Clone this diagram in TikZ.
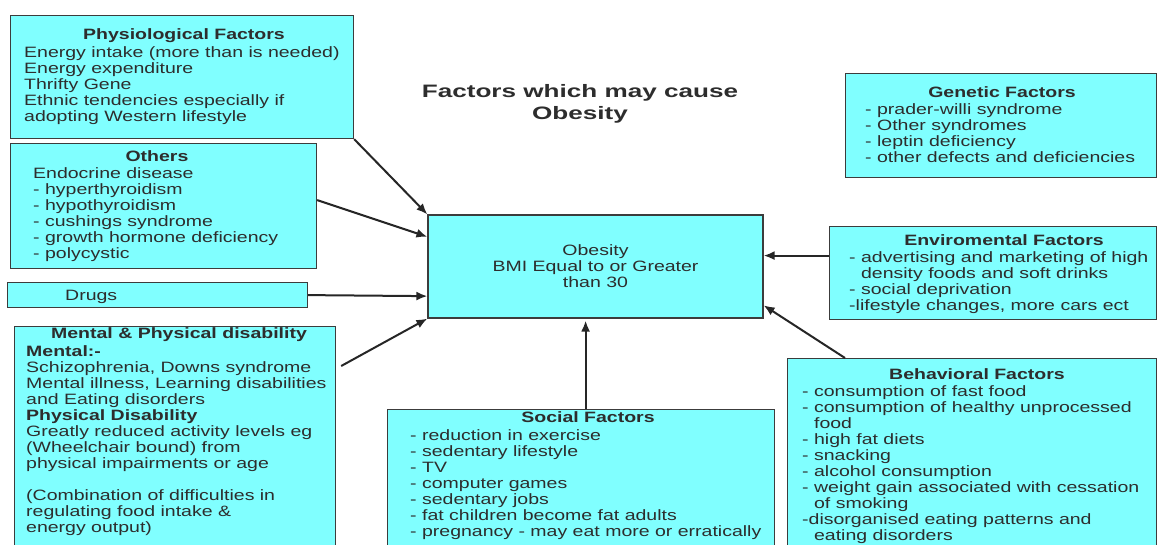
\documentclass[tikz,border=0pt]{standalone}
\usepackage{fontspec}
\setmainfont[FakeStretch=1.3]{Liberation Sans}
\newfontfamily\headfont[FakeStretch=1.45]{Liberation Sans}
\usetikzlibrary{arrows.meta,calc}

\definecolor{boxcyan}{RGB}{128,255,255}
\definecolor{inkgray}{RGB}{45,45,45}
\definecolor{edgegray}{RGB}{60,60,60}

\newcommand{\bodysize}{\fontsize{15}{16}\selectfont}

\tikzset{
    factorbox/.style={rectangle, draw=edgegray, line width=1.2pt, fill=boxcyan, anchor=north west, inner sep=0pt},
    boxtitle/.style={font=\bodysize\bfseries, text=inkgray, inner sep=0pt},
    boxtext/.style={font=\bodysize, text=inkgray, align=left, anchor=north west, inner sep=0pt},
    headtext/.style={font=\headfont\fontsize{18}{22}\selectfont\bfseries, text=inkgray, align=center, inner sep=0pt},
    cause/.style={-{Latex[length=11pt,width=9pt]}, line width=2pt, draw=black!85},
}

\begin{document}
\begin{tikzpicture}[x=1pt,y=-1pt]
    \useasboundingbox (0,0) rectangle (1157,545);
    \clip (0,0) rectangle (1157,545);

    % Titolo
    \node[headtext] (title) at (580,104) {Factors which may cause\\Obesity};

    % Box centrale
    \node[factorbox, anchor=center, minimum width=335pt, minimum height=103pt,
          font=\bodysize, text=inkgray, align=center] (obesity) at (595.5,266.5)
          {Obesity\\BMI Equal to or Greater\\than 30};

    % Physiological
    \node[factorbox, minimum width=343pt, minimum height=123pt] (phys) at (10,15) {};
    \node[boxtitle] (phys-title) at (184,36) {Physiological Factors};
    \node[boxtext] (phys-text) at (24,46.5) {Energy intake (more than is needed)\\
        Energy expenditure\\Thrifty Gene\\Ethnic tendencies especially if\\
        adopting Western lifestyle};

    % Others
    \node[factorbox, minimum width=306pt, minimum height=125pt] (others) at (10,143) {};
    \node[boxtitle] (others-title) at (157,156) {Others};
    \node[boxtext] (others-text) at (33,167.5) {Endocrine disease\\- hyperthyroidism\\
        - hypothyroidism\\- cushings syndrome\\- growth hormone deficiency\\- polycystic};

    % Drugs
    \node[factorbox, minimum width=300pt, minimum height=25pt] (drugs) at (7,282) {};
    \node[boxtext, anchor=west] (drugs-text) at (65,297) {Drugs};

    % Mental & Physical
    \node[factorbox, minimum width=321pt, minimum height=240pt] (mental) at (14,326) {};
    \node[boxtitle] (mental-title) at (179,335) {Mental \& Physical disability};
    \node[boxtext] (mental-text) at (26,345.5) {\textbf{Mental:-}\\
        Schizophrenia, Downs syndrome\\Mental illness, Learning disabilities\\
        and Eating disorders\\\textbf{Physical Disability}\\
        Greatly reduced activity levels eg\\(Wheelchair bound) from\\
        physical impairments or age\\[16pt]
        (Combination of difficulties in\\regulating food intake \&\\energy output)};

    % Social
    \node[factorbox, minimum width=387pt, minimum height=150pt] (social) at (387,409) {};
    \node[boxtitle] (social-title) at (588,417) {Social Factors};
    \node[boxtext] (social-text) at (410,429.5) {- reduction in exercise\\
        - sedentary lifestyle\\- TV\\- computer games\\- sedentary jobs\\
        - fat children become fat adults\\- pregnancy - may eat more or erratically};

    % Genetic
    \node[factorbox, minimum width=311pt, minimum height=104pt] (genetic) at (845,73) {};
    \node[boxtitle] (genetic-title) at (1002,92) {Genetic Factors};
    \node[boxtext] (genetic-text) at (865,103.5) {- prader-willi syndrome\\
        - Other syndromes\\- leptin deficiency\\- other defects and deficiencies};

    % Enviromental
    \node[factorbox, minimum width=327pt, minimum height=93pt] (envir) at (829,226) {};
    \node[boxtitle] (envir-title) at (1004,240) {Enviromental Factors};
    \node[boxtext] (envir-text) at (849,251.5) {- advertising and marketing of high\\
        \hphantom{- }density foods and soft drinks\\- social deprivation\\
        -lifestyle changes, more cars ect};

    % Behavioral
    \node[factorbox, minimum width=369pt, minimum height=200pt] (behav) at (787,358) {};
    \node[boxtitle] (behav-title) at (977,374) {Behavioral Factors};
    \node[boxtext] (behav-text) at (802,385.5) {- consumption of fast food\\
        - consumption of healthy unprocessed\\\hphantom{- }food\\- high fat diets\\
        - snacking\\- alcohol consumption\\- weight gain associated with cessation\\
        \hphantom{- }of smoking\\-disorganised eating patterns and\\
        \hphantom{- }eating disorders};

    % Frecce
    \coordinate (social-out) at ([xshift=4.5pt]social.north);
    \coordinate (envir-out) at ([yshift=17.5pt]envir.west);
    \draw[cause] (phys.south east) -- (obesity.north west);
    \draw[cause] ([yshift=6pt]others.east) -- (obesity.170);
    \draw[cause] (drugs.east) -- (obesity.190);
    \draw[cause] ([shift={(5,40)}]mental.north east) -- (obesity.south west);
    \draw[cause, shorten >=2pt] (social-out) -- (social-out |- obesity.south);
    \draw[cause] (envir-out) -- (envir-out -| obesity.east);
    \draw[cause] ([xshift=58pt]behav.north west) -- (obesity.347);
\end{tikzpicture}
\end{document}
